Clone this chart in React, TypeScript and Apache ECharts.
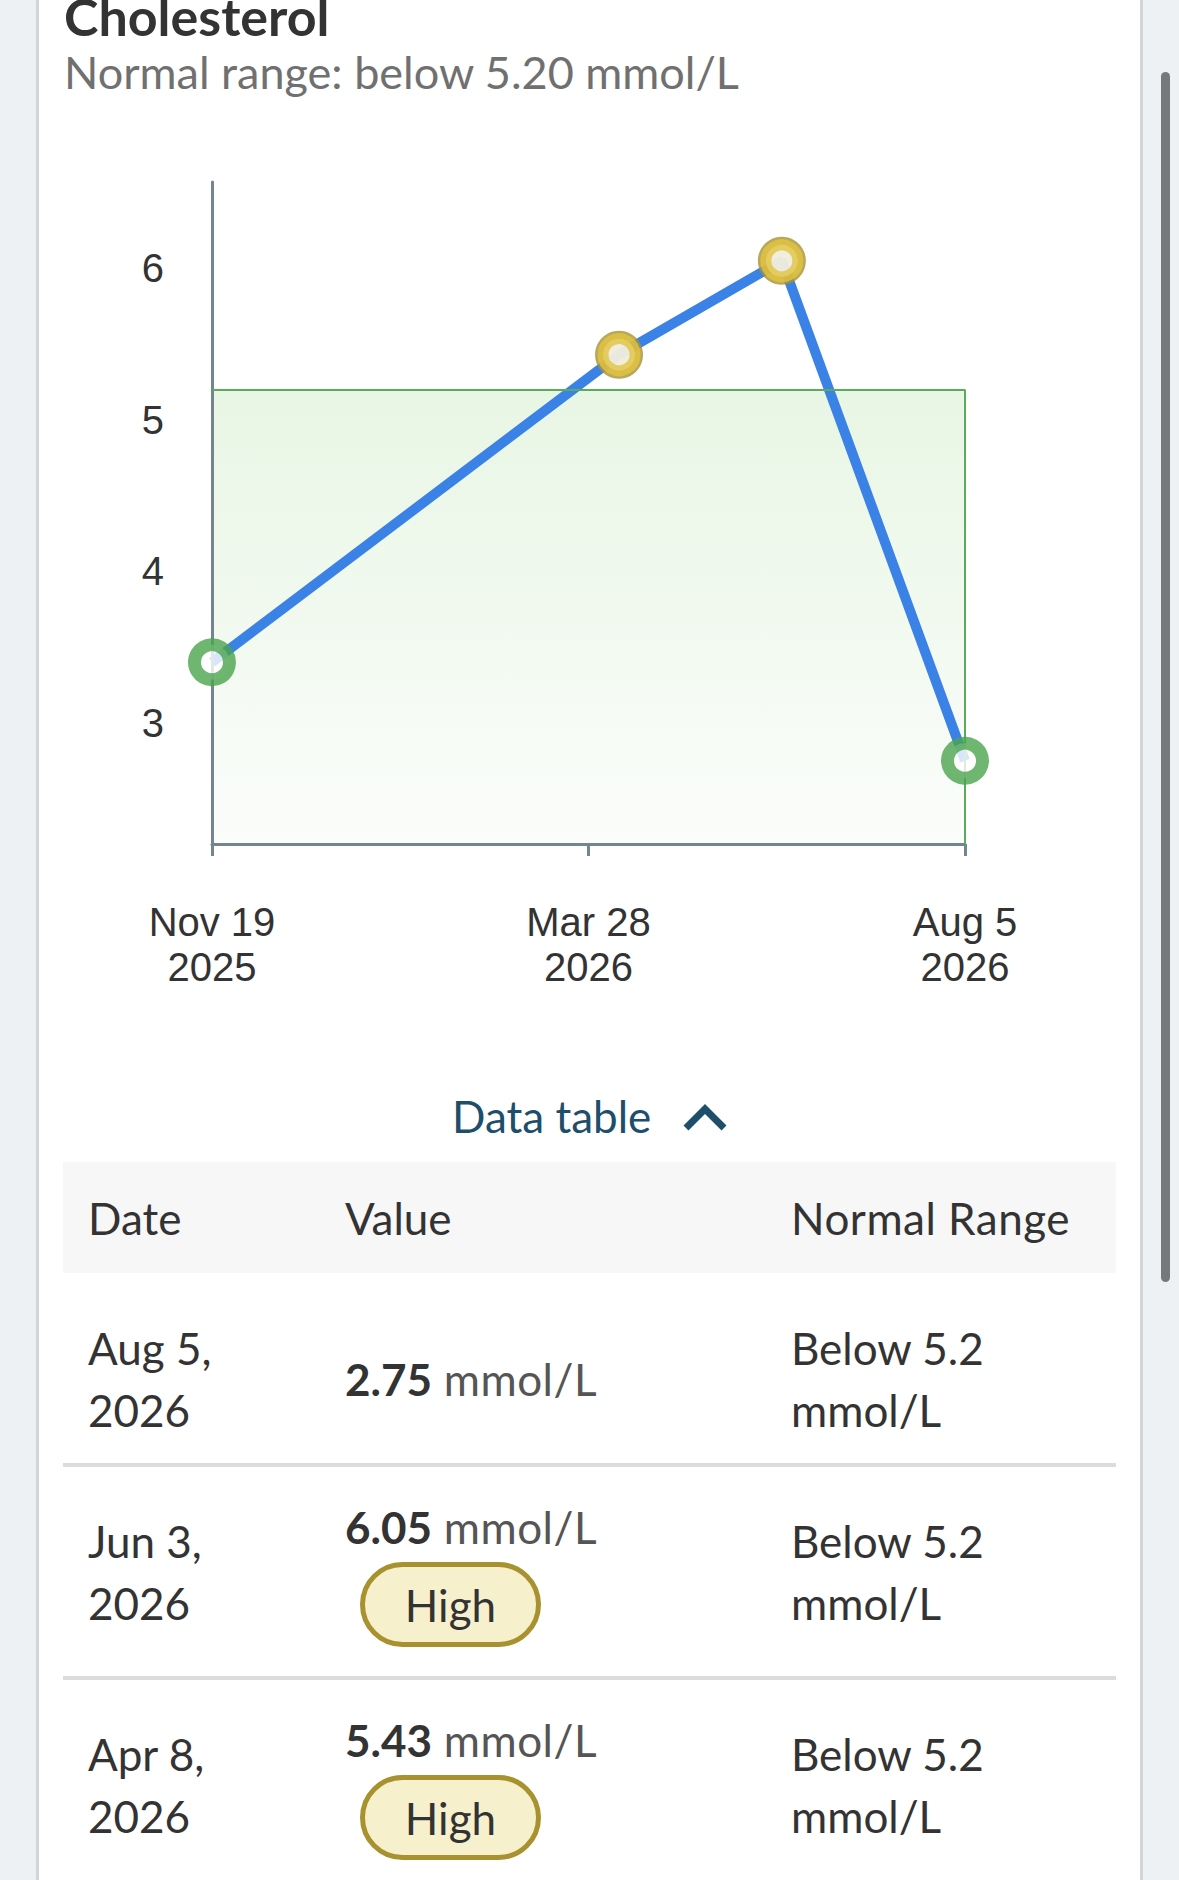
import React, { useEffect, useRef } from "react";
import * as echarts from "echarts";

// ---- data ----
const title = "Cholesterol";
const unit = "mmol/L";
const normalMax = 5.2;
const dates = ["2025-11-19", "2026-04-08", "2026-06-03", "2026-08-05"];
const values = [3.4, 5.43, 6.05, 2.75];
const yMin = 2.2;
const yMax = 6.57;
const yTickValues = [3, 4, 5, 6];
const tableHeaders = ["Date", "Value", "Normal Range"];
const highLabel = "High";
const tableLinkLabel = "Data table";

const MONTHS = ["Jan", "Feb", "Mar", "Apr", "May", "Jun", "Jul", "Aug", "Sep", "Oct", "Nov", "Dec"];
const DAY = 86400000;
const t0 = Date.parse(dates[0]);
const dayOffset = (d: string) => (Date.parse(d) - t0) / DAY;
const span = dayOffset(dates[dates.length - 1]);

const fmtAxis = (v: number) => {
  const t = new Date(t0 + v * DAY);
  return `${MONTHS[t.getUTCMonth()]} ${t.getUTCDate()}\n${t.getUTCFullYear()}`;
};
const fmtTable = (d: string) => {
  const t = new Date(Date.parse(d));
  return [`${MONTHS[t.getUTCMonth()]} ${t.getUTCDate()},`, `${t.getUTCFullYear()}`];
};

const BLUE = "#3b82e6";
const GREEN = "#4ba44e";
const YELLOW = "#e2c340";
const YELLOW_DARK = "#a8922f";
const AXIS = "#74858f";

function Chart() {
  const ref = useRef<HTMLDivElement>(null);
  useEffect(() => {
    if (!ref.current) return;
    const chart = echarts.init(ref.current, null, { renderer: "svg" });
    const pts = dates.map((d, i) => [dayOffset(d), values[i]]);
    const highPts = pts.filter((p) => p[1] > normalMax);
    chart.setOption({
      animation: false,
      grid: { left: 212, right: 214, top: 62, bottom: 216, containLabel: false, outerBoundsMode: "none" },
      xAxis: {
        type: "value",
        min: 0,
        max: span,
        interval: span / 2,
        z: 3,
        axisLine: { show: true, onZero: false, lineStyle: { color: AXIS, width: 3 } },
        axisTick: { show: true, length: 12, lineStyle: { color: AXIS, width: 3 } },
        axisLabel: {
          formatter: fmtAxis,
          showMinLabel: true,
          showMaxLabel: true,
          fontSize: 40,
          lineHeight: 45,
          color: "#333",
          fontFamily: "Liberation Sans",
          margin: 55,
        },
        splitLine: { show: false },
      },
      yAxis: {
        type: "value",
        min: yMin,
        max: yMax,
        z: 3,
        axisLine: { show: true, onZero: false, lineStyle: { color: AXIS, width: 3 } },
        axisTick: { show: false },
        axisLabel: {
          customValues: yTickValues,
          fontSize: 40,
          color: "#333",
          fontFamily: "Liberation Sans",
          margin: 48,
        },
        splitLine: { show: false },
      },
      series: [
        {
          type: "line",
          data: pts,
          showSymbol: false,
          z: 2,
          lineStyle: { color: BLUE, width: 10 },
          markArea: {
            silent: true,
            itemStyle: {
              color: new echarts.graphic.LinearGradient(0, 0, 0, 1, [
                { offset: 0, color: "#e8f6e4" },
                { offset: 1, color: "#fbfdfb" },
              ]),
              borderWidth: 0,
            },
            data: [[{ xAxis: 0, yAxis: yMin }, { xAxis: span, yAxis: normalMax }]],
          },
          markLine: {
            silent: true,
            symbol: ["none", "none"],
            label: { show: false },
            lineStyle: { color: "#5aab5a", width: 2, type: "solid" },
            data: [
              [{ coord: [0, normalMax] }, { coord: [span, normalMax] }],
              [{ coord: [span, normalMax] }, { coord: [span, yMin] }],
            ],
          },
        },
        {
          type: "scatter",
          data: highPts,
          z: 4,
          clip: false,
          symbol: "circle",
          symbolSize: 48,
          itemStyle: { color: YELLOW_DARK },
          silent: true,
        },
        {
          type: "scatter",
          data: pts.map((p) => {
            const high = p[1] > normalMax;
            return {
              value: p,
              symbolSize: high ? 32 : 35,
              itemStyle: {
                color: "#ffffff",
                borderColor: high ? YELLOW : GREEN,
                borderWidth: high ? 11 : 13,
              },
            };
          }),
          z: 5,
          clip: false,
          symbol: "circle",
          silent: true,
        },
      ],
    });
    return () => chart.dispose();
  }, []);
  return <div ref={ref} style={{ position: "absolute", left: 0, top: 120, width: 1179, height: 940 }} />;
}

const FONT = "Lato, 'Noto Sans', sans-serif";
const TXT = "#333333";

function Row({ d, v }: { d: string; v: number }) {
  const high = v > normalMax;
  const [l1, l2] = fmtTable(d);
  return (
    <div
      style={{
        display: "flex",
        alignItems: "center",
        paddingTop: high ? 29 : 44,
        paddingBottom: high ? 29 : 22,
        borderBottom: "4px solid #dcdcdc",
        fontSize: 44,
        lineHeight: "62px",
        color: TXT,
      }}
    >
      <div style={{ width: 257, paddingLeft: 25 }}>
        <div>{l1}</div>
        <div>{l2}</div>
      </div>
      <div style={{ width: 446 }}>
        <div>
          <span style={{ fontWeight: 700 }}>{v.toFixed(2)}</span>
          <span style={{ color: "#555", letterSpacing: 0.5 }}> {unit}</span>
        </div>
        {high && (
          <div
            style={{
              marginTop: 4,
              marginLeft: 15,
              width: 181,
              height: 85,
              boxSizing: "border-box",
              border: `5px solid ${YELLOW_DARK}`,
              borderRadius: 43,
              background: "#f7f0cc",
              display: "flex",
              alignItems: "center",
              justifyContent: "center",
              lineHeight: "62px",
            }}
          >
            {highLabel}
          </div>
        )}
      </div>
      <div>
        <div>{`Below ${normalMax}`}</div>
        <div>{unit}</div>
      </div>
    </div>
  );
}

export default function App() {
  const rows = dates.map((d, i) => ({ d, v: values[i] })).reverse();
  return (
    <div
      style={{
        position: "absolute",
        left: 0,
        top: 0,
        width: 1179,
        height: 1880,
        overflow: "hidden",
        background: "#eef1f4",
        fontFamily: FONT,
      }}
    >
      <div
        style={{
          position: "absolute",
          left: 36,
          top: -20,
          width: 1107,
          height: 1940,
          boxSizing: "border-box",
          background: "#ffffff",
          borderLeft: "3px solid #d2d5d8",
          borderRight: "3px solid #d2d5d8",
        }}
      />
      <div
        style={{
          position: "absolute",
          left: 1161,
          top: 72,
          width: 9,
          height: 1210,
          borderRadius: 5,
          background: "#77787b",
        }}
      />
      <Chart />
      <div
        style={{
          position: "absolute",
          left: 64,
          top: -10,
          fontSize: 52,
          lineHeight: 1,
          fontWeight: 700,
          color: TXT,
          whiteSpace: "nowrap",
        }}
      >
        {title}
      </div>
      <div
        style={{
          position: "absolute",
          left: 64,
          top: 50,
          fontSize: 45,
          lineHeight: 1,
          color: "#707070",
          whiteSpace: "nowrap",
        }}
      >
        {`Normal range: below ${normalMax.toFixed(2)} ${unit}`}
      </div>
      <div
        style={{
          position: "absolute",
          left: 452,
          top: 1094,
          fontSize: 44,
          lineHeight: 1,
          color: "#1d4e6b",
          whiteSpace: "nowrap",
        }}
      >
        {tableLinkLabel}
      </div>
      <svg style={{ position: "absolute", left: 680, top: 1100, width: 50, height: 36 }}>
        <polyline points="6,28 25,9 44,28" fill="none" stroke="#1d4e6b" strokeWidth={7} />
      </svg>
      <div style={{ position: "absolute", left: 63, top: 1162, width: 1053 }}>
        <div
          style={{
            height: 111,
            background: "#f7f7f7",
            display: "flex",
            alignItems: "center",
            fontSize: 44,
            color: TXT,
          }}
        >
          <div style={{ width: 257, paddingLeft: 25 }}>{tableHeaders[0]}</div>
          <div style={{ width: 446 }}>{tableHeaders[1]}</div>
          <div style={{ letterSpacing: 0.5 }}>{tableHeaders[2]}</div>
        </div>
        {rows.map((r) => (
          <Row key={r.d} d={r.d} v={r.v} />
        ))}
      </div>
    </div>
  );
}
